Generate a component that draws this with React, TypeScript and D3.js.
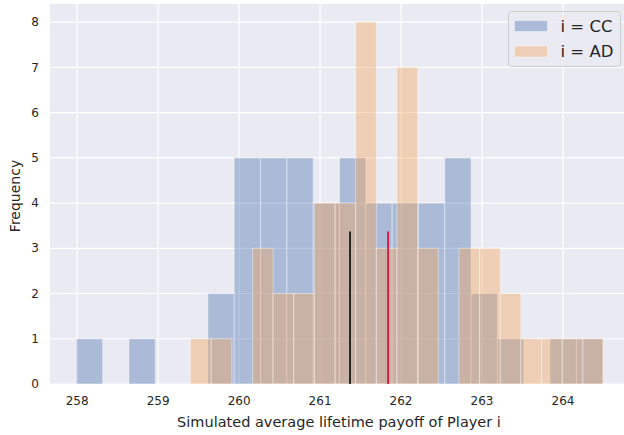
import React from "react";
import * as d3 from "d3";

// ---- data ----
const ccCounts = [1, 0, 1, 0, 0, 2, 5, 5, 5, 4, 5, 4, 4, 4, 5, 2, 1, 0, 1, 1];
const adCounts = [1, 1, 0, 3, 2, 2, 4, 4, 8, 3, 7, 3, 0, 3, 3, 2, 1, 1, 1, 1];
const ccRange = [257.99, 264.49];
const adRange = [259.4, 264.5];
const meanLines = [
  { x: 261.37, top: 3.37, color: "#1a1a1a" },
  { x: 261.84, top: 3.37, color: "#dc143c" },
];
const xTicks = [258, 259, 260, 261, 262, 263, 264];
const yTicks = [0, 1, 2, 3, 4, 5, 6, 7, 8];
const seriesLabels = ["i = CC", "i = AD"];
const seriesColors = ["#4c72b0", "#f5a45a"];

const W = 624;
const H = 435;
const left = 50;
const top = 4;
const bottom = 384;
const right = 629.8;

const x = d3.scaleLinear().domain([257.6645, 264.8255]).range([left, right]);
const y = d3.scaleLinear().domain([0, 8.4]).range([bottom, top]);

function makeBins(counts: number[], range: number[]) {
  const n = counts.length;
  const w = (range[1] - range[0]) / n;
  return counts.map((c, i) => ({ x0: range[0] + i * w, x1: range[0] + (i + 1) * w, c }));
}

const FONT = "'DejaVu Sans', sans-serif";
const TEXT = "#262626";

export default function App() {
  const series = [makeBins(ccCounts, ccRange), makeBins(adCounts, adRange)];
  return (
    <div style={{ position: "absolute", left: 0, top: 0 }}>
      <svg width={W} height={H} style={{ display: "block", fontFamily: FONT }}>
        <defs>
          <clipPath id="plot">
            <rect x={left} y={top} width={right - left} height={bottom - top} />
          </clipPath>
        </defs>
        <rect x={left} y={top} width={right - left} height={bottom - top} fill="#eaeaf2" />
        {xTicks.map((t) => (
          <line key={"gx" + t} x1={x(t)} x2={x(t)} y1={top} y2={bottom} stroke="#fff" strokeWidth={1.2} />
        ))}
        {yTicks.map((t) => (
          <line key={"gy" + t} x1={left} x2={right} y1={y(t)} y2={y(t)} stroke="#fff" strokeWidth={1.2} />
        ))}
        <g clipPath="url(#plot)">
          {series.map((bins, si) =>
            bins
              .filter((b) => b.c > 0)
              .map((b, i) => (
                <rect
                  key={si + "-" + i}
                  x={x(b.x0)}
                  y={y(b.c)}
                  width={x(b.x1) - x(b.x0)}
                  height={y(0) - y(b.c)}
                  fill={seriesColors[si]}
                  fillOpacity={0.4}
                  stroke="#fff"
                  strokeOpacity={0.4}
                  strokeWidth={1}
                />
              ))
          )}
          {meanLines.map((m, i) => (
            <line key={"m" + i} x1={x(m.x)} x2={x(m.x)} y1={y(0)} y2={y(m.top)} stroke={m.color} strokeWidth={1.8} />
          ))}
        </g>
        {xTicks.map((t) => (
          <text key={"tx" + t} x={x(t)} y={bottom + 21} textAnchor="middle" fontSize={12} fill={TEXT}>
            {t}
          </text>
        ))}
        {yTicks.map((t) => (
          <text key={"ty" + t} x={left - 11} y={y(t)} dy="0.35em" textAnchor="end" fontSize={12} fill={TEXT}>
            {t}
          </text>
        ))}
        <text x={339} y={bottom + 43} textAnchor="middle" fontSize={14.5} fill={TEXT}>
          Simulated average lifetime payoff of Player i
        </text>
        <text
          transform={`translate(${20},${196}) rotate(-90)`}
          textAnchor="middle"
          fontSize={14}
          fill={TEXT}
        >
          Frequency
        </text>
        {/* legend */}
        <g>
          <rect x={508.5} y={11.5} width={112} height={55} rx={3} fill="#eaeaf2" fillOpacity={0.8} stroke="#cccccc" strokeWidth={1} />
          {seriesLabels.map((lab, i) => (
            <g key={lab}>
              <rect
                x={514.5}
                y={20.5 + i * 25.5}
                width={33}
                height={11}
                fill={seriesColors[i]}
                fillOpacity={0.4}
                stroke="#fff"
                strokeOpacity={0.4}
              />
              <text x={560.5} y={26 + i * 25.5} dy="0.36em" fontSize={16.5} fill={TEXT}>
                {lab}
              </text>
            </g>
          ))}
        </g>
      </svg>
    </div>
  );
}
